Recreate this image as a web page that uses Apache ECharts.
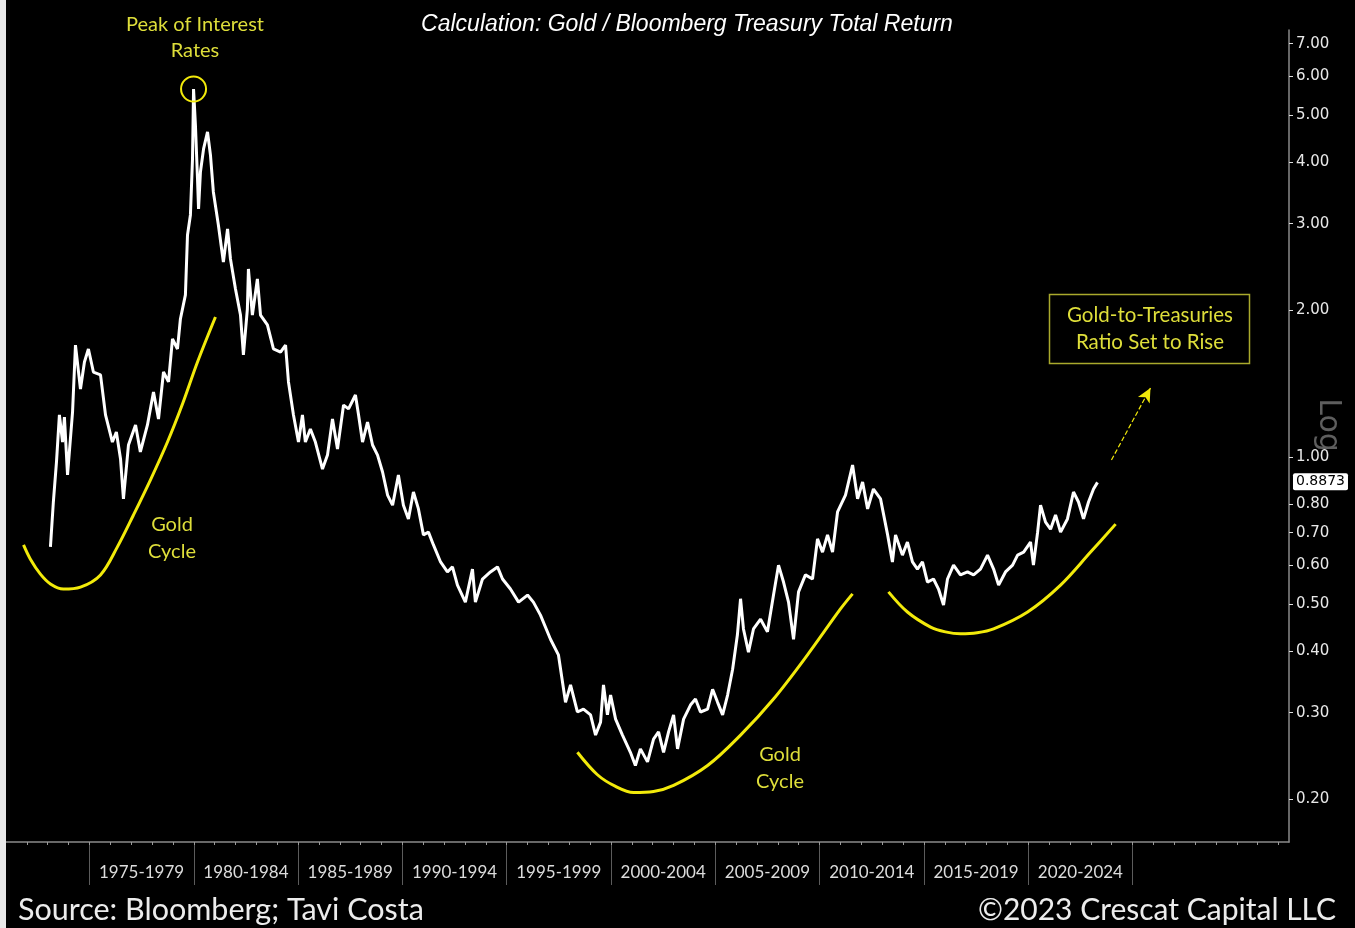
<!DOCTYPE html>
<html>
<head>
<meta charset="utf-8">
<script src="https://cdn.jsdelivr.net/npm/echarts@6/dist/echarts.min.js"></script>
<style>
  html, body { margin: 0; padding: 0; background: #000; }
  #chart { width: 1355px; height: 928px; }
  #edge { position: absolute; left: 0; top: 0; width: 6px; height: 928px; background: #e9e9e9; }
</style>
</head>
<body>
<div id="chart"></div>
<div id="edge"></div>
<script>
// Gold / Bloomberg Treasury Total Return ratio (decimal years, ratio)
const years = [
  1973.13, 1973.27, 1973.42, 1973.56, 1973.71, 1973.80, 1973.95, 1974.19, 1974.33, 1974.57,
  1974.76, 1974.95, 1975.19, 1975.53, 1975.77, 1976.10, 1976.29, 1976.49, 1976.63, 1976.87,
  1977.21, 1977.44, 1977.78, 1978.07, 1978.31, 1978.55, 1978.79, 1978.98, 1979.22, 1979.36,
  1979.60, 1979.70, 1979.84, 1979.94, 1979.99, 1980.08, 1980.18, 1980.23, 1980.32, 1980.47,
  1980.66, 1980.80, 1980.94, 1981.18, 1981.42, 1981.62, 1981.76, 1982.00, 1982.24, 1982.38,
  1982.57, 1982.62, 1982.81, 1983.05, 1983.20, 1983.53, 1983.82, 1984.16, 1984.40, 1984.54,
  1984.78, 1985.02, 1985.21, 1985.35, 1985.59, 1985.83, 1986.17, 1986.41, 1986.65, 1986.89,
  1987.18, 1987.42, 1987.75, 1987.90, 1988.09, 1988.33, 1988.57, 1988.81, 1989.05, 1989.29,
  1989.53, 1989.81, 1990.05, 1990.29, 1990.53, 1990.77, 1991.01, 1991.25, 1991.49, 1991.83,
  1992.16, 1992.40, 1992.64, 1993.02, 1993.36, 1993.50, 1993.84, 1994.22, 1994.56, 1994.80,
  1995.18, 1995.57, 1996.00, 1996.28, 1996.62, 1997.10, 1997.48, 1997.82, 1998.06, 1998.39,
  1998.68, 1999.02, 1999.26, 1999.50, 1999.64, 1999.83, 1999.98, 2000.22, 2000.55, 2000.93,
  2001.17, 2001.41, 2001.75, 2002.04, 2002.28, 2002.52, 2002.76, 2003.00, 2003.19, 2003.48,
  2003.81, 2004.05, 2004.29, 2004.63, 2004.87, 2005.11, 2005.35, 2005.59, 2005.83, 2006.06,
  2006.21, 2006.35, 2006.59, 2006.83, 2007.17, 2007.50, 2007.79, 2008.03, 2008.27, 2008.51,
  2008.75, 2008.99, 2009.32, 2009.66, 2009.90, 2010.14, 2010.38, 2010.62, 2010.86, 2011.24,
  2011.58, 2011.82, 2012.06, 2012.30, 2012.58, 2012.92, 2013.26, 2013.49, 2013.64, 2013.97,
  2014.21, 2014.45, 2014.69, 2014.93, 2015.17, 2015.46, 2015.70, 2015.94, 2016.13, 2016.42,
  2016.75, 2017.09, 2017.38, 2017.71, 2018.05, 2018.34, 2018.58, 2018.91, 2019.25, 2019.49,
  2019.78, 2020.11, 2020.25, 2020.45, 2020.59, 2020.83, 2021.07, 2021.31, 2021.55, 2021.88,
  2022.17, 2022.41, 2022.65, 2022.89, 2023.13, 2023.32
];
const ratio = [
  0.655, 0.809, 0.977, 1.219, 1.073, 1.207, 0.919, 1.236, 1.694, 1.377,
  1.564, 1.663, 1.492, 1.472, 1.219, 1.073, 1.125, 0.991, 0.821, 1.058,
  1.163, 1.024, 1.163, 1.358, 1.196, 1.492, 1.424, 1.743, 1.663, 1.915,
  2.145, 2.844, 3.126, 4.069, 5.656, 4.775, 3.702, 3.215, 3.826, 4.265,
  4.620, 4.146, 3.483, 2.981, 2.505, 2.926, 2.540, 2.206, 1.951, 1.617,
  2.007, 2.424, 1.951, 2.312, 1.951, 1.862, 1.663, 1.639, 1.694, 1.424,
  1.219, 1.073, 1.219, 1.073, 1.141, 1.073, 0.945, 1.009, 1.196, 1.038,
  1.277, 1.254, 1.339, 1.219, 1.073, 1.179, 1.058, 1.009, 0.932, 0.836,
  0.797, 0.919, 0.797, 0.747, 0.848, 0.783, 0.693, 0.702, 0.661, 0.610,
  0.582, 0.596, 0.547, 0.505, 0.590, 0.505, 0.563, 0.582, 0.596, 0.563,
  0.537, 0.505, 0.522, 0.505, 0.475, 0.424, 0.394, 0.315, 0.342, 0.301,
  0.305, 0.297, 0.270, 0.287, 0.342, 0.297, 0.326, 0.291, 0.270, 0.249,
  0.234, 0.253, 0.238, 0.265, 0.274, 0.249, 0.274, 0.297, 0.253, 0.291,
  0.311, 0.320, 0.301, 0.305, 0.335, 0.315, 0.297, 0.326, 0.368, 0.433,
  0.513, 0.445, 0.399, 0.445, 0.466, 0.439, 0.522, 0.601, 0.555, 0.505,
  0.424, 0.530, 0.574, 0.563, 0.680, 0.639, 0.693, 0.639, 0.772, 0.836,
  0.963, 0.821, 0.889, 0.783, 0.860, 0.821, 0.693, 0.610, 0.693, 0.630,
  0.670, 0.610, 0.590, 0.610, 0.555, 0.563, 0.537, 0.498, 0.563, 0.601,
  0.574, 0.582, 0.574, 0.590, 0.630, 0.590, 0.547, 0.582, 0.601, 0.630,
  0.639, 0.670, 0.601, 0.702, 0.797, 0.736, 0.712, 0.761, 0.702, 0.747,
  0.848, 0.809, 0.747, 0.809, 0.860, 0.8873
];
const lastValue = 0.8873;
const peakIndex = 34;

// "Gold Cycle" guide arcs
const cycle1Years = [1971.84, 1972.17, 1972.65, 1973.13, 1973.75, 1974.57, 1975.53, 1976.34, 1977.11, 1977.92, 1978.74, 1979.46, 1980.18, 1981.04];
const cycle1Vals  = [0.661, 0.618, 0.576, 0.550, 0.537, 0.542, 0.574, 0.655, 0.761, 0.897, 1.073, 1.283, 1.564, 1.933];
const cycle2Years = [1998.39, 1999.35, 2000.22, 2001.08, 2002.04, 2003.00, 2004.63, 2006.21, 2007.79, 2009.42, 2011.00, 2011.58];
const cycle2Vals  = [0.249, 0.224, 0.212, 0.206, 0.207, 0.213, 0.234, 0.270, 0.320, 0.394, 0.489, 0.525];
const cycle3Years = [2013.30, 2014.21, 2015.32, 2016.03, 2016.75, 2017.55, 2018.34, 2019.97, 2021.55, 2022.99, 2024.19];
const cycle3Vals  = [0.530, 0.482, 0.449, 0.439, 0.435, 0.437, 0.445, 0.482, 0.547, 0.639, 0.729];

// dashed arrow toward the outlook box
const arrowFrom = [2023.99, 0.986];
const arrowTo   = [2025.86, 1.384];

// axes
const yTicks = [0.2, 0.3, 0.4, 0.5, 0.6, 0.7, 0.8, 1, 2, 3, 4, 5, 6, 7];
const periodStarts = [1975, 1980, 1985, 1990, 1995, 2000, 2005, 2010, 2015, 2020];
const periodBounds = periodStarts.concat([2025]);
const yearTicks = [];
for (let y = 1972; y <= 2032; y++) yearTicks.push(y);

const zip = (a, b) => a.map((v, i) => [v, b[i]]);
const YELLOW = '#f2ea0a';
const TEXT_YELLOW = '#dede3a';
const LABEL_FONT = 'Lato';

const chart = echarts.init(document.getElementById('chart'), null, { renderer: 'canvas' });

const arc = (name, xs, vs) => ({
  name, type: 'line', data: zip(xs, vs), smooth: 0.35, showSymbol: false, silent: true,
  lineStyle: { color: YELLOW, width: 3 }, z: 3
});

chart.setOption({
  backgroundColor: '#000',
  animation: false,
  title: {
    text: 'Calculation: Gold / Bloomberg Treasury Total Return',
    left: 682, top: 8, textAlign: 'center',
    textStyle: { color: '#fff', fontFamily: 'Liberation Sans', fontStyle: 'italic', fontWeight: 'normal', fontSize: 23 }
  },
  grid: { left: 6, right: 66, top: 30, bottom: 86, containLabel: false },
  xAxis: [
    {
      type: 'value', min: 1971, max: 2032.5, position: 'bottom',
      axisLine: { show: true, lineStyle: { color: '#8a8a8a', width: 1.5 } },
      axisTick: { show: true, customValues: periodBounds, length: 43, lineStyle: { color: '#5c5c5c', width: 1 } },
      axisLabel: {
        customValues: periodStarts.map(v => v + 2.5),
        formatter: v => `${v - 2.5}-${v + 1.5}`,
        color: '#dcdcdc', fontFamily: LABEL_FONT, fontSize: 17, margin: 22
      },
      splitLine: { show: false }
    },
    {
      type: 'value', min: 1971, max: 2032.5, position: 'bottom',
      axisLine: { show: false },
      axisTick: { show: true, customValues: yearTicks, length: 3, lineStyle: { color: '#9a9a9a' } },
      axisLabel: { show: false },
      splitLine: { show: false }
    }
  ],
  yAxis: {
    type: 'log', logBase: 10, min: 0.1632, max: 7.467, position: 'right',
    axisLine: { show: true, lineStyle: { color: '#8a8a8a', width: 1.5 } },
    axisTick: { show: true, customValues: yTicks, length: 4, lineStyle: { color: '#dddddd' } },
    axisLabel: {
      customValues: yTicks, formatter: v => Number(v).toFixed(2),
      color: '#e8e8e8', fontFamily: 'DejaVu Sans', fontSize: 15, margin: 7
    },
    splitLine: { show: false }
  },
  series: [
    {
      name: 'Gold / Treasuries', type: 'line', data: zip(years, ratio),
      showSymbol: false, lineStyle: { color: '#ffffff', width: 3 }, z: 4,
      markPoint: {
        silent: true,
        symbol: 'circle', symbolSize: 25,
        itemStyle: { color: 'rgba(0,0,0,0)', borderColor: YELLOW, borderWidth: 2 },
        label: { show: false },
        data: [{ coord: [years[peakIndex], ratio[peakIndex]] }]
      },
      markLine: {
        silent: true, symbol: ['none', 'none'],
        lineStyle: { color: 'rgba(0,0,0,0)', width: 0 },
        label: {
          show: true, position: 'end', distance: 4, formatter: () => lastValue.toFixed(4),
          color: '#000', backgroundColor: '#fff', padding: [2, 3, 1, 3],
          fontFamily: 'DejaVu Sans', fontSize: 14, borderRadius: 2
        },
        emphasis: { disabled: true },
        data: [{ yAxis: lastValue }]
      }
    },
    arc('Gold Cycle 1', cycle1Years, cycle1Vals),
    arc('Gold Cycle 2', cycle2Years, cycle2Vals),
    arc('Gold Cycle 3', cycle3Years, cycle3Vals),
    {
      name: 'Outlook arrow', type: 'line', data: [], silent: true,
      markLine: {
        silent: true, symbol: ['none', 'arrow'], symbolSize: [10, 14],
        lineStyle: { color: YELLOW, type: 'dashed', width: 1.2 },
        label: { show: false },
        data: [[{ coord: arrowFrom }, { coord: arrowTo }]]
      }
    }
  ],
  graphic: [
    {
      type: 'text', x: 195, y: 12,
      style: { text: 'Peak of Interest\nRates', fill: TEXT_YELLOW, font: `20px ${LABEL_FONT}`, align: 'center', lineHeight: 26 }
    },
    {
      type: 'text', x: 172, y: 511,
      style: { text: 'Gold\nCycle', fill: TEXT_YELLOW, font: `20px ${LABEL_FONT}`, align: 'center', lineHeight: 27 }
    },
    {
      type: 'text', x: 780, y: 741,
      style: { text: 'Gold\nCycle', fill: TEXT_YELLOW, font: `20px ${LABEL_FONT}`, align: 'center', lineHeight: 27 }
    },
    {
      type: 'rect', shape: { x: 1049.5, y: 294.5, width: 200, height: 69 },
      style: { fill: 'rgba(0,0,0,0)', stroke: '#a9a92c', lineWidth: 1.5 }
    },
    {
      type: 'text', x: 1150, y: 302,
      style: { text: 'Gold-to-Treasuries\nRatio Set to Rise', fill: TEXT_YELLOW, font: `20.5px ${LABEL_FONT}`, align: 'center', lineHeight: 27 }
    },
    {
      type: 'text', x: 1328, y: 425, rotation: -Math.PI / 2,
      style: { text: 'Log', fill: '#5e5e5e', font: `30px 'DejaVu Sans'`, align: 'center', verticalAlign: 'middle' }
    },
    {
      type: 'text', x: 18, y: 910,
      style: { text: 'Source: Bloomberg; Tavi Costa', fill: '#ececec', font: `30.5px ${LABEL_FONT}`, verticalAlign: 'middle' }
    },
    {
      type: 'text', x: 1336, y: 910,
      style: { text: '\u00A92023 Crescat Capital LLC', fill: '#ececec', font: `30px ${LABEL_FONT}`, align: 'right', verticalAlign: 'middle' }
    }
  ]
});
</script>
</body>
</html>
